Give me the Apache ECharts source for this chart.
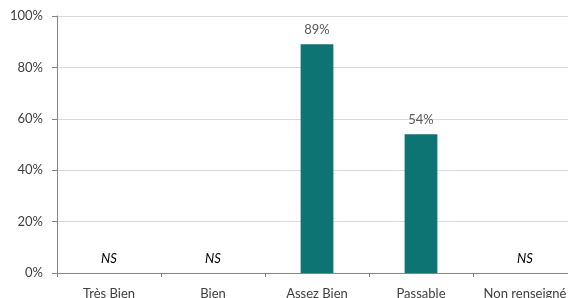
<!DOCTYPE html>
<html>
<head>
<meta charset="utf-8">
<script src="https://cdn.jsdelivr.net/npm/echarts@6/dist/echarts.min.js"></script>
<style>
  html, body { margin: 0; padding: 0; background: #ffffff; overflow: hidden; }
  #chart { width: 580px; height: 298px; }
</style>
</head>
<body>
<div id="chart"></div>
<script>
const categories = ['Très Bien', 'Bien', 'Assez Bien', 'Passable', 'Non renseigné'];
const values = [null, null, 89, 54, null];
const nsFlags = [true, true, false, false, true];
const yTicks = [0, 20, 40, 60, 80, 100];

const chart = echarts.init(document.getElementById('chart'));
const font = 'Lato, "Open Sans", sans-serif';
const textColor = '#404040';

const option = {
  backgroundColor: '#ffffff',
  animation: false,
  grid: { left: 57, top: 16, width: 520, height: 257, containLabel: false, outerBoundsMode: 'none' },
  xAxis: {
    type: 'category',
    data: categories,
    axisLine: { lineStyle: { color: '#868686' } },
    axisTick: { show: true, length: 4, lineStyle: { color: '#868686' } },
    axisLabel: { color: textColor, fontFamily: font, fontSize: 13, margin: 14, interval: 0 }
  },
  yAxis: {
    type: 'value',
    min: yTicks[0],
    max: yTicks[yTicks.length - 1],
    interval: 20,
    axisLine: { show: true, lineStyle: { color: '#868686' } },
    axisTick: { show: true, length: 5, lineStyle: { color: '#868686' } },
    splitLine: { lineStyle: { color: '#d9d9d9' } },
    axisLabel: { color: textColor, fontFamily: font, fontSize: 13, margin: 14, formatter: '{value}%' }
  },
  series: [
    {
      type: 'bar',
      data: values,
      barWidth: '31.5%',
      itemStyle: { color: '#0e7373' },
      label: {
        show: true, position: 'top', distance: 8,
        color: '#595959', fontFamily: font, fontSize: 13,
        formatter: p => p.value + '%'
      }
    },
    {
      type: 'bar',
      data: nsFlags.map(f => (f ? 0 : null)),
      barWidth: '31.5%',
      barGap: '-100%',
      itemStyle: { color: 'transparent' },
      label: {
        show: true, position: 'top', distance: 8,
        color: '#000000', fontFamily: font, fontSize: 13, fontStyle: 'italic',
        formatter: 'NS'
      }
    }
  ]
};
chart.setOption(option);
</script>
</body>
</html>
